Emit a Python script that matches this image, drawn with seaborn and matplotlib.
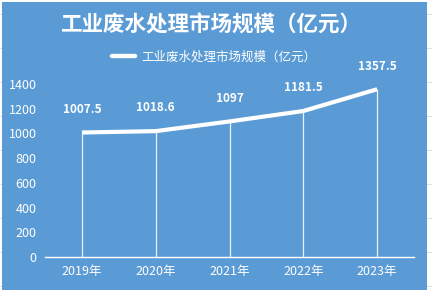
import matplotlib
matplotlib.use("Agg")
import matplotlib.pyplot as plt
import seaborn as sns
import pandas as pd
from matplotlib.patches import Rectangle
from matplotlib.lines import Line2D

years = ["2019年", "2020年", "2021年", "2022年", "2023年"]
values = [1007.5, 1018.6, 1097, 1181.5, 1357.5]
value_labels = ["1007.5", "1018.6", "1097", "1181.5", "1357.5"]
yticks = [0, 200, 400, 600, 800, 1000, 1200, 1400]
series_name = "工业废水处理市场规模（亿元）"

sns.set_theme(style="white")
plt.rcParams['font.family'] = ['Noto Sans CJK SC', 'DejaVu Sans']

BLUE = "#5B9BD5"
W, H = 432, 292
fig = plt.figure(figsize=(W / 100, H / 100), dpi=100)
fig.patch.set_facecolor("white")

# faint spreadsheet grid outside the chart
for yy in [14, 48, 82, 116, 150, 184, 218, 252, 286]:
    fig.add_artist(Line2D([0, 1], [1 - yy / H] * 2, color="#d9d9d9", lw=0.6,
                          transform=fig.transFigure, zorder=0))
fig.add_artist(Rectangle((2 / W, 2 / H), 425 / W, 288 / H, transform=fig.transFigure,
                         facecolor=BLUE, edgecolor="none", zorder=1))

ax = fig.add_axes([45 / W, 35 / H, 369 / W, 173 / H])
ax.set_facecolor("none")
ax.set_zorder(2)

df = pd.DataFrame({"year": years, "value": values})
x = list(range(len(years)))
ax.vlines(x, 0, values, colors="#e8f0fa", lw=0.9, zorder=2)
sns.lineplot(data=df, x="year", y="value", ax=ax, color="white", lw=3.0,
             sort=False, zorder=3, solid_capstyle="butt")

for xi, v, lab in zip(x, values, value_labels):
    ax.annotate(lab, (xi, v), xytext=(0, 12), textcoords="offset points",
                ha="center", va="bottom", color="white", fontsize=8.5,
                fontweight="bold")

ax.set_xlim(-0.5, len(years) - 0.5)
ax.set_ylim(0, 1400)
ax.set_yticks(yticks)
ax.set_yticklabels([str(t) for t in yticks], color="white", fontsize=9)
ax.set_xticks(x)
ax.set_xticklabels(years, color="white", fontsize=9)
ax.tick_params(axis="both", length=0, pad=6)
ax.set_xlabel("")
ax.set_ylabel("")
for s in ["top", "right", "left"]:
    ax.spines[s].set_visible(False)
ax.spines["bottom"].set_color("white")
ax.spines["bottom"].set_linewidth(1.0)

fig.text(211 / W, 1 - 25 / H, series_name, ha="center", va="center",
         color="white", fontsize=15.5, fontweight="bold")

handle = Line2D([], [], color="white", lw=3.2)
leg = fig.legend([handle], [series_name], loc="center",
                 bbox_to_anchor=(214 / W, 1 - 57 / H), frameon=False,
                 fontsize=9, handlelength=1.8, handletextpad=0.5)
for t in leg.get_texts():
    t.set_color("white")
leg.set_zorder(5)

fig.savefig("out.png", dpi=100, facecolor=fig.get_facecolor())
